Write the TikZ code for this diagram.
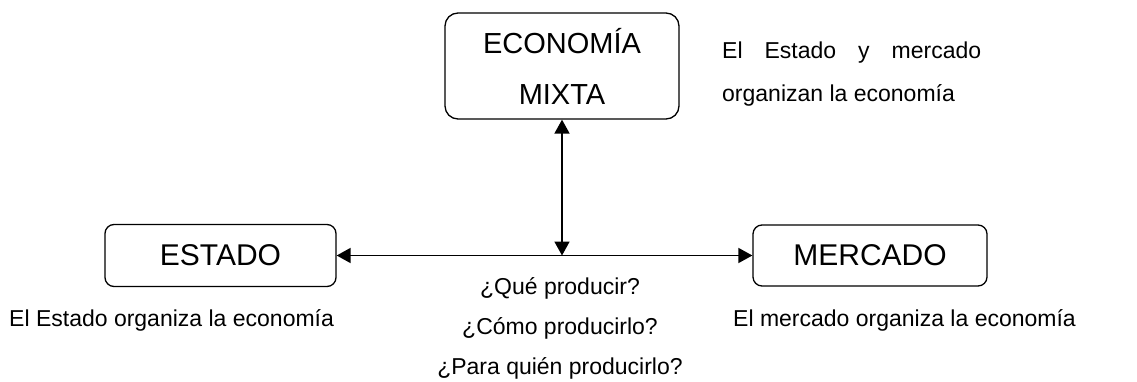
\documentclass[tikz,border=0pt]{standalone}
\usepackage{fontspec}
\setmainfont{Liberation Sans}
\usetikzlibrary{arrows.meta}
\tikzset{
  bigbox/.style={draw, line width=1.3pt, rounded corners=9pt, inner sep=0pt, font=\fontsize{30}{36}\selectfont},
  conn/.style={line width=1.8pt, {Triangle[length=14pt,width=15pt]}-{Triangle[length=14pt,width=15pt]}},
  small/.style={inner sep=0pt, font=\fontsize{23}{28}\selectfont}
}
\begin{document}
\begin{tikzpicture}[x=1pt,y=-1pt]
\useasboundingbox (0,0) rectangle (1137,382);
\node[bigbox, minimum width=234pt, minimum height=106pt, rounded corners=13pt, align=center, font=\fontsize{29}{51}\selectfont] (mixta) at (562,66) {ECONOMÍA\\MIXTA};
\node[bigbox, minimum width=231pt, minimum height=62pt] (estado) at (220.5,255.5) {ESTADO};
\node[bigbox, minimum width=234pt, minimum height=61pt] (mercado) at (870,255.5) {MERCADO};
\coordinate (j) at (mixta.south |- estado.east);
\draw[conn] (estado.east) -- (mercado.west);
\draw[conn] (j) -- (mixta.south);
\node[small, anchor=base west] (t1) at (722,59) {\hbox to 259pt{El\hfill Estado\hfill y\hfill mercado}};
\node[small, anchor=base west] (t2) at (722,102) {organizan la economía};
\node[small, anchor=base west] (le) at (9,326) {El Estado organiza la economía};
\node[small, anchor=base west] (re) at (733,326) {El mercado organiza la economía};
\node[small, anchor=base] (q1) at (560,294) {¿Qué producir?};
\node[small, anchor=base] (q2) at (560,334) {¿Cómo producirlo?};
\node[small, anchor=base] (q3) at (560,374) {¿Para quién producirlo?};
\end{tikzpicture}
\end{document}
